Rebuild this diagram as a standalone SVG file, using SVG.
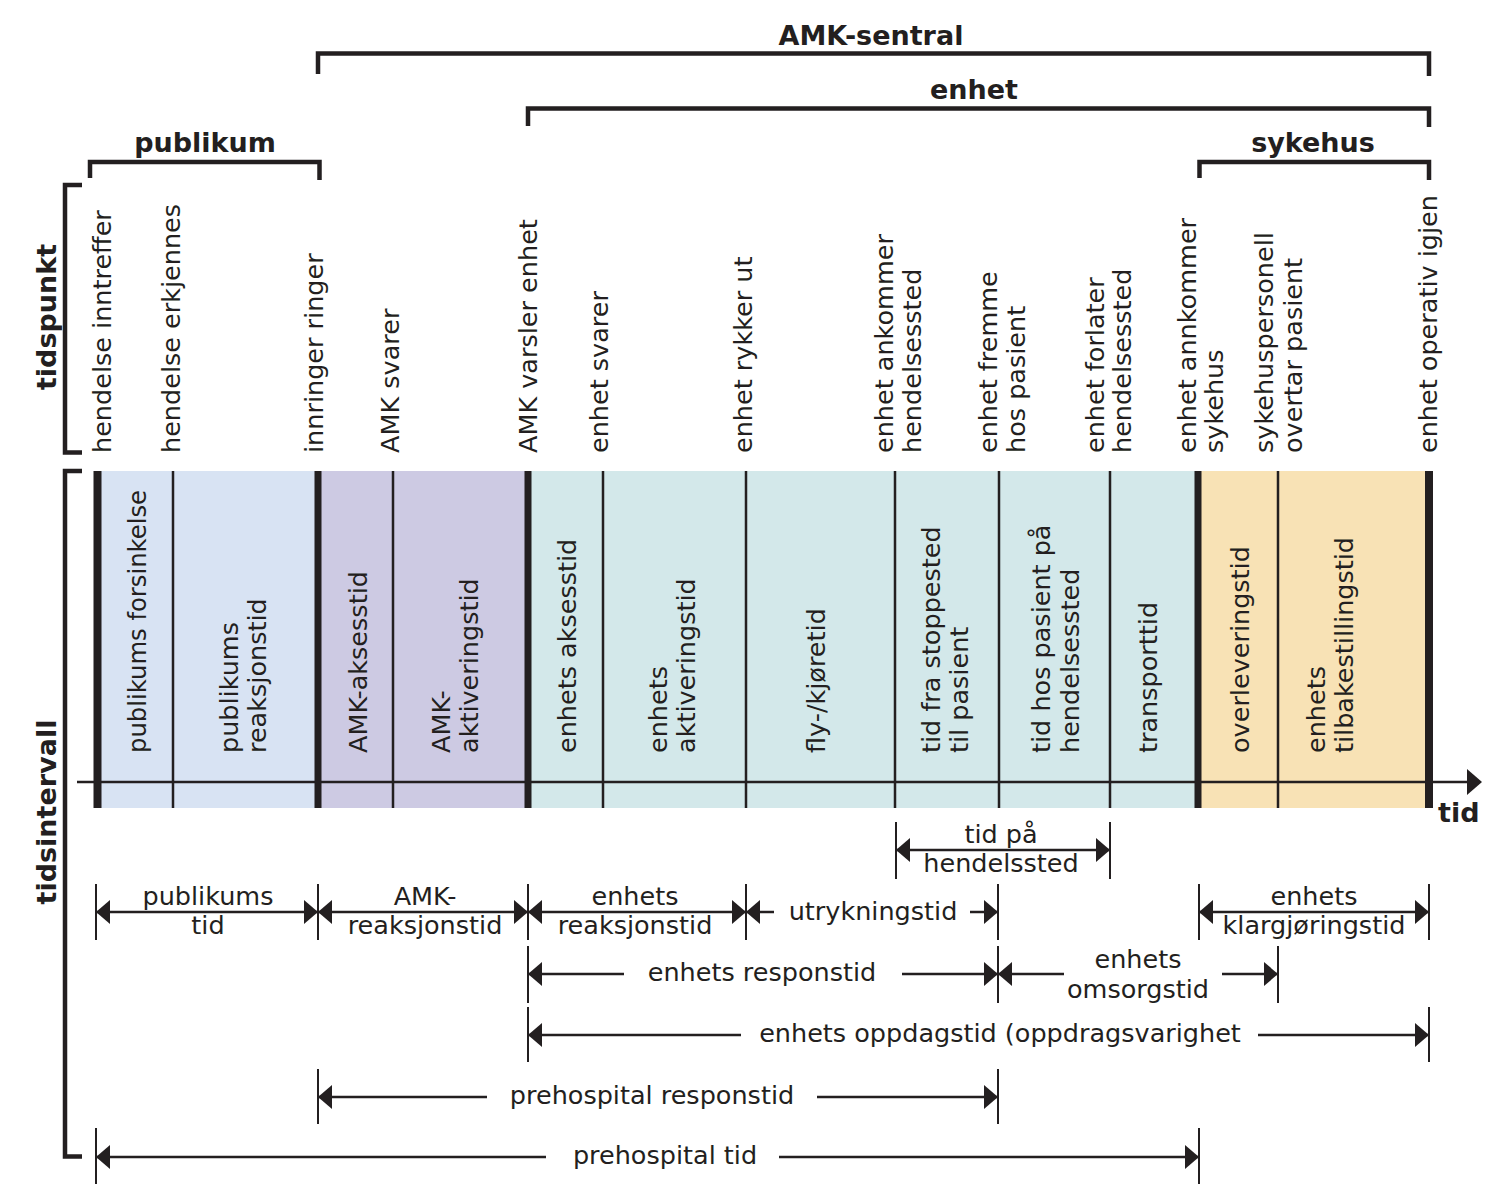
<svg xmlns="http://www.w3.org/2000/svg" width="1500" height="1193" viewBox="0 0 1500 1193">
<defs>
<marker id="ah" viewBox="0 0 14 24" refX="14" refY="12" markerWidth="14" markerHeight="24" markerUnits="userSpaceOnUse" orient="auto-start-reverse"><path d="M0,0 L14,12 L0,24 Z" fill="#231f20"/></marker>
</defs>
<style>
.t{font-family:"DejaVu Sans","Liberation Sans",sans-serif;font-size:25.5px;fill:#231f20}
.m{text-anchor:middle}
.b{font-family:"DejaVu Sans","Liberation Sans",sans-serif;font-weight:bold;font-size:27px;fill:#231f20}
.br{fill:none;stroke:#231f20;stroke-width:4.5}
.tick{stroke:#231f20;stroke-width:2}
.dim{stroke:#231f20;stroke-width:2.5;fill:none}
.both{marker-start:url(#ah);marker-end:url(#ah)}
.end{marker-end:url(#ah)}
.thick{stroke:#231f20;stroke-width:7}
.thin{stroke:#231f20;stroke-width:2.5}
</style>
<rect width="1500" height="1193" fill="#ffffff"/>

<!-- top brackets -->
<g id="amk-sentral">
<path class="br" d="M318,74 V53.5 H1429 V76"/>
<text class="b m" x="871" y="45">AMK-sentral</text>
</g>
<g id="enhet">
<path class="br" d="M528,126 V108.5 H1429 V127"/>
<text class="b m" x="974" y="99">enhet</text>
</g>
<g id="publikum">
<path class="br" d="M90,178 V162 H319.5 V180"/>
<text class="b m" x="205" y="152">publikum</text>
</g>
<g id="sykehus">
<path class="br" d="M1199.5,178 V162 H1429 V180"/>
<text class="b m" x="1313" y="152">sykehus</text>
</g>

<!-- tidspunkt -->
<g id="tidspunkt">
<path class="br" d="M82,185 H65 V452.5 H82"/>
<text class="b m" transform="translate(56,317) rotate(-90)">tidspunkt</text>
</g>
<g id="tidsintervall">
<path class="br" d="M82,471 H65 V1156.5 H82"/>
<text class="b m" transform="translate(56,812) rotate(-90)">tidsintervall</text>
</g>

<g id="tidspunkt-labels">
<text class="t" transform="translate(111,453) rotate(-90)">hendelse inntreffer</text>
<text class="t" transform="translate(180,453) rotate(-90)">hendelse erkjennes</text>
<text class="t" transform="translate(323,453) rotate(-90)">innringer ringer</text>
<text class="t" transform="translate(399,453) rotate(-90)">AMK svarer</text>
<text class="t" transform="translate(537,453) rotate(-90)">AMK varsler enhet</text>
<text class="t" transform="translate(608,453) rotate(-90)">enhet svarer</text>
<text class="t" transform="translate(752,453) rotate(-90)">enhet rykker ut</text>
<text class="t" transform="translate(893,453) rotate(-90)">enhet ankommer<tspan x="0" dy="28">hendelsessted</tspan></text>
<text class="t" transform="translate(997,453) rotate(-90)">enhet fremme<tspan x="0" dy="28">hos pasient</tspan></text>
<text class="t" transform="translate(1104,453) rotate(-90)">enhet forlater<tspan x="0" dy="27">hendelsessted</tspan></text>
<text class="t" transform="translate(1196,453) rotate(-90)">enhet annkommer<tspan x="0" dy="27">sykehus</tspan></text>
<text class="t" transform="translate(1273,453) rotate(-90)">sykehuspersonell<tspan x="0" dy="29">overtar pasient</tspan></text>
<text class="t" transform="translate(1437,453) rotate(-90)">enhet operativ igjen</text>
</g>

<!-- bands -->
<g id="bands">
<rect x="97" y="471" width="221" height="337" fill="#d8e3f3"/>
<rect x="318" y="471" width="210" height="337" fill="#cdcae3"/>
<rect x="528" y="471" width="670" height="337" fill="#d3e8ea"/>
<rect x="1198" y="471" width="231" height="337" fill="#f8e2b5"/>
</g>

<g id="connectors">
<g id="axis">
<line class="thin" x1="77" y1="782" x2="1468" y2="782"/>
<polygon points="1467,769 1482,782 1467,795" fill="#231f20"/>
<text class="b" x="1438" y="822">tid</text>
</g>
<g id="band-lines">
<line class="thin" x1="173" y1="471" x2="173" y2="808"/>
<line class="thin" x1="393" y1="471" x2="393" y2="808"/>
<line class="thin" x1="603" y1="471" x2="603" y2="808"/>
<line class="thin" x1="746" y1="471" x2="746" y2="808"/>
<line class="thin" x1="895" y1="471" x2="895" y2="808"/>
<line class="thin" x1="999" y1="471" x2="999" y2="808"/>
<line class="thin" x1="1110" y1="471" x2="1110" y2="808"/>
<line class="thin" x1="1278" y1="471" x2="1278" y2="808"/>
<line class="thick" x1="97.5" y1="471" x2="97.5" y2="808" style="stroke-width:8"/>
<line class="thick" x1="318" y1="471" x2="318" y2="808"/>
<line class="thick" x1="528" y1="471" x2="528" y2="808"/>
<line class="thick" x1="1198" y1="471" x2="1198" y2="808"/>
<line class="thick" x1="1429" y1="471" x2="1429" y2="808" style="stroke-width:8"/>
</g>
<g id="ticks">
<line class="tick" x1="896" y1="822" x2="896" y2="879"/>
<line class="tick" x1="1110" y1="822" x2="1110" y2="879"/>
<line class="tick" x1="96" y1="884" x2="96" y2="940"/>
<line class="tick" x1="318" y1="884" x2="318" y2="940"/>
<line class="tick" x1="528" y1="884" x2="528" y2="940"/>
<line class="tick" x1="746" y1="884" x2="746" y2="940"/>
<line class="tick" x1="998" y1="884" x2="998" y2="940"/>
<line class="tick" x1="1199" y1="884" x2="1199" y2="940"/>
<line class="tick" x1="1429" y1="884" x2="1429" y2="940"/>
<line class="tick" x1="528" y1="946" x2="528" y2="1003"/>
<line class="tick" x1="998" y1="946" x2="998" y2="1003"/>
<line class="tick" x1="1278" y1="946" x2="1278" y2="1003"/>
<line class="tick" x1="528" y1="1007" x2="528" y2="1062"/>
<line class="tick" x1="1429" y1="1007" x2="1429" y2="1062"/>
<line class="tick" x1="318" y1="1069" x2="318" y2="1124"/>
<line class="tick" x1="998" y1="1069" x2="998" y2="1124"/>
<line class="tick" x1="96" y1="1128" x2="96" y2="1184"/>
<line class="tick" x1="1199" y1="1128" x2="1199" y2="1184"/>
</g>
<g id="dimension-arrows">
<line class="dim both" x1="896" y1="850" x2="1110" y2="850"/>
<line class="dim both" x1="96" y1="912" x2="318" y2="912"/>
<line class="dim both" x1="318" y1="912" x2="528" y2="912"/>
<line class="dim both" x1="528" y1="912" x2="746" y2="912"/>
<line class="dim end" x1="774" y1="912" x2="746" y2="912"/>
<line class="dim end" x1="970" y1="912" x2="998" y2="912"/>
<line class="dim both" x1="1199" y1="912" x2="1429" y2="912"/>
<line class="dim end" x1="624" y1="974" x2="528" y2="974"/>
<line class="dim end" x1="902" y1="974" x2="998" y2="974"/>
<line class="dim end" x1="1064" y1="974" x2="998" y2="974"/>
<line class="dim end" x1="1222" y1="974" x2="1278" y2="974"/>
<line class="dim end" x1="741" y1="1035" x2="528" y2="1035"/>
<line class="dim end" x1="1258" y1="1035" x2="1429" y2="1035"/>
<line class="dim end" x1="487" y1="1097" x2="318" y2="1097"/>
<line class="dim end" x1="817" y1="1097" x2="998" y2="1097"/>
<line class="dim end" x1="546" y1="1157" x2="96" y2="1157"/>
<line class="dim end" x1="779" y1="1157" x2="1199" y2="1157"/>
</g>
</g>

<!-- interval labels -->
<g id="interval-labels">
<text class="t" transform="translate(146,753) rotate(-90)" textLength="263" lengthAdjust="spacingAndGlyphs">publikums forsinkelse</text>
<text class="t" transform="translate(238,753) rotate(-90)">publikums<tspan x="0" dy="28">reaksjonstid</tspan></text>
<text class="t" transform="translate(367,753) rotate(-90)">AMK-aksesstid</text>
<text class="t" transform="translate(450,753) rotate(-90)">AMK-<tspan x="0" dy="28">aktiveringstid</tspan></text>
<text class="t" transform="translate(576,753) rotate(-90)">enhets aksesstid</text>
<text class="t" transform="translate(667,753) rotate(-90)">enhets<tspan x="0" dy="28">aktiveringstid</tspan></text>
<text class="t" transform="translate(825,753) rotate(-90)">fly-/kjøretid</text>
<text class="t" transform="translate(940,753) rotate(-90)">tid fra stoppested<tspan x="0" dy="28">til pasient</tspan></text>
<text class="t" transform="translate(1050,753) rotate(-90)">tid hos pasient på<tspan x="0" dy="29">hendelsessted</tspan></text>
<text class="t" transform="translate(1157,753) rotate(-90)">transporttid</text>
<text class="t" transform="translate(1249,753) rotate(-90)">overleveringstid</text>
<text class="t" transform="translate(1325,753) rotate(-90)">enhets<tspan x="0" dy="28">tilbakestillingstid</tspan></text>
</g>

<!-- dimension labels -->
<g id="dimension-labels">
<text class="t m" x="1001" y="843">tid på</text>
<text class="t m" x="1001" y="872">hendelssted</text>
<text class="t m" x="208" y="905">publikums</text>
<text class="t m" x="208" y="934">tid</text>
<text class="t m" x="425" y="905">AMK-</text>
<text class="t m" x="425" y="934">reaksjonstid</text>
<text class="t m" x="635" y="905">enhets</text>
<text class="t m" x="635" y="934">reaksjonstid</text>
<text class="t m" x="873" y="920">utrykningstid</text>
<text class="t m" x="1314" y="905">enhets</text>
<text class="t m" x="1314" y="934">klargjøringstid</text>
<text class="t m" x="762" y="981">enhets responstid</text>
<text class="t m" x="1138" y="968">enhets</text>
<text class="t m" x="1138" y="998">omsorgstid</text>
<text class="t m" x="1000" y="1042">enhets oppdagstid (oppdragsvarighet</text>
<text class="t m" x="652" y="1104">prehospital responstid</text>
<text class="t m" x="665" y="1164">prehospital tid</text>
</g>
</svg>
